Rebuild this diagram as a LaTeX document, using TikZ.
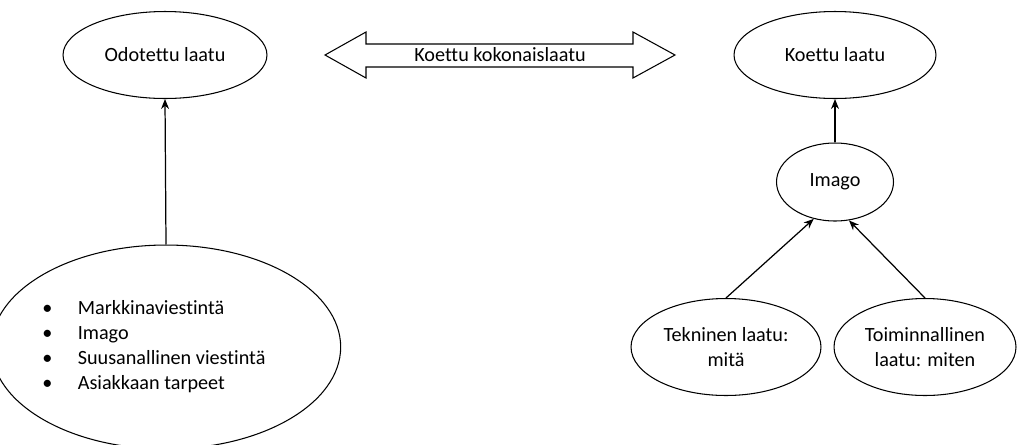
\documentclass[tikz,border=0pt]{standalone}
\usepackage{fontspec}
\setmainfont[Ligatures=NoCommon]{Carlito}
\usetikzlibrary{shapes.geometric,arrows.meta}
\begin{document}
\fontsize{11.5}{14.2}\selectfont
\begin{tikzpicture}[x=0.02cm,y=-0.02cm,
    soikio/.style={draw,ellipse,inner sep=0pt,line width=0.6pt,align=center},
    nuoli/.style={-{Stealth[length=2mm,width=1.6mm]},line width=0.7pt}]
  \useasboundingbox (0,0) rectangle (1017,444);
  \node[soikio,minimum width=4.08cm,minimum height=1.74cm] (odotettu) at (165,55) {Odotettu laatu};
  \node[soikio,minimum width=4.04cm,minimum height=1.74cm] (koettu) at (835,55) {Koettu laatu};
  \node[soikio,minimum width=2.34cm,minimum height=1.56cm] (imago) at (835,182) {Imago};
  \node[soikio,minimum width=6.16cm,minimum height=4.08cm] (odotus) at (166,347)
    {\begin{tabular}{@{}l@{}}
       \makebox[1.75em][l]{\textbullet}Markkinaviestintä\\
       \makebox[1.75em][l]{\textbullet}Imago\\
       \makebox[1.75em][l]{\textbullet}Suusanallinen viestintä\\
       \makebox[1.75em][l]{\textbullet}Asiakkaan tarpeet
     \end{tabular}\hspace{0.48cm}};
  \node[soikio,minimum width=3.8cm,minimum height=1.94cm] (tekninen) at (726,347) {Tekninen laatu:\\mitä};
  \node[soikio,minimum width=3.64cm,minimum height=1.94cm] (toiminnallinen) at (925,347) {Toiminnallinen\\laatu: miten};
  % kaksisuuntainen nuoli
  \draw[line width=0.6pt] (325,55) -- (366,32) -- (366,44) -- (633,44) -- (633,32) -- (675,55)
     -- (633,78) -- (633,67) -- (366,67) -- (366,78) -- cycle;
  \node (kokonais) at (500,55) {Koettu kokonaislaatu};
  \draw[nuoli] (odotus.north) -- (odotettu.south);
  \draw[nuoli] (imago.north) -- (koettu.south);
  \draw[nuoli] (tekninen.north) -- (imago.240);
  \draw[nuoli] (toiminnallinen.north) -- (imago.290);
\end{tikzpicture}
\end{document}
